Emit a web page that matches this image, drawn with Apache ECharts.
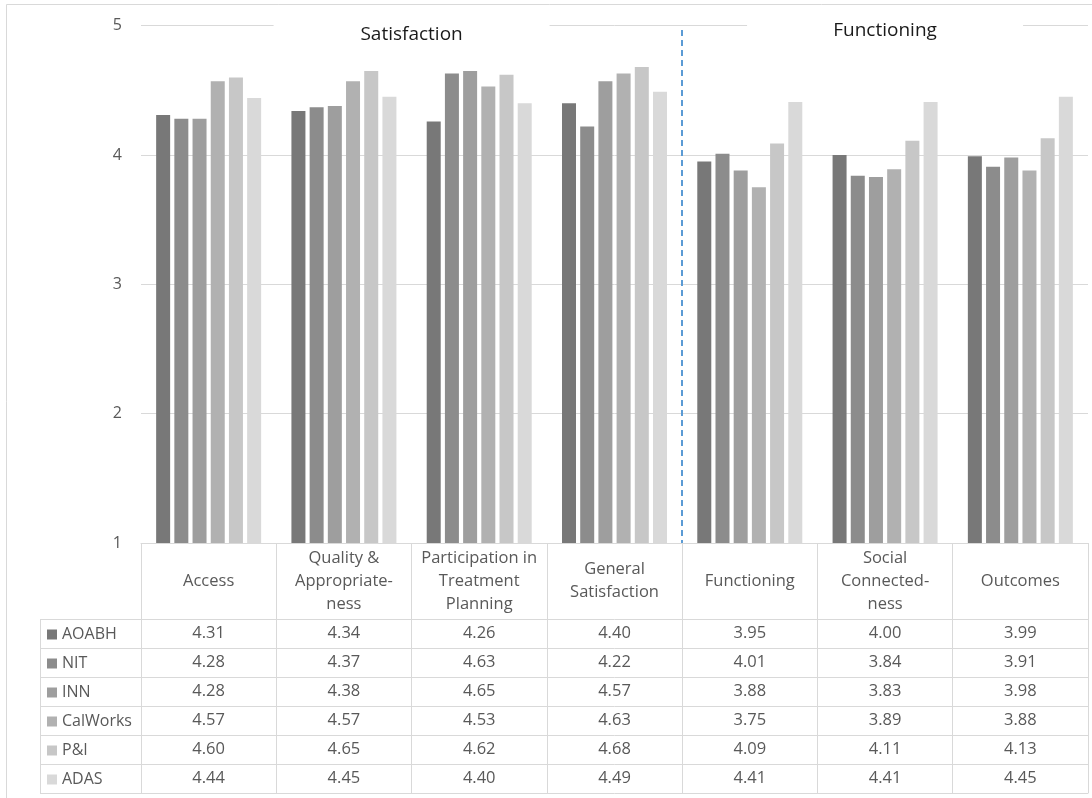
<!DOCTYPE html>
<html>
<head>
<meta charset="utf-8">
<script src="https://cdn.jsdelivr.net/npm/echarts@6/dist/echarts.min.js"></script>
<style>
html,body{margin:0;padding:0;background:#fff;}
#chart{width:1092px;height:798px;}
</style>
</head>
<body>
<div id="chart"></div>
<script>
const categories = ['Access', 'Quality &\nAppropriate-\nness', 'Participation in\nTreatment\nPlanning', 'General\nSatisfaction', 'Functioning', 'Social\nConnected-\nness', 'Outcomes'];
const seriesNames = ['AOABH', 'NIT', 'INN', 'CalWorks', 'P&I', 'ADAS'];
const aoabh    = [4.31, 4.34, 4.26, 4.40, 3.95, 4.00, 3.99];
const nit      = [4.28, 4.37, 4.63, 4.22, 4.01, 3.84, 3.91];
const inn      = [4.28, 4.38, 4.65, 4.57, 3.88, 3.83, 3.98];
const calworks = [4.57, 4.57, 4.53, 4.63, 3.75, 3.89, 3.88];
const pAndI    = [4.60, 4.65, 4.62, 4.68, 4.09, 4.11, 4.13];
const adas     = [4.44, 4.45, 4.40, 4.49, 4.41, 4.41, 4.45];
const yMin = 1, yMax = 5, yInterval = 1;
const groupTitles = ['Satisfaction', 'Functioning'];
const groupRanges = [[0, 3], [4, 6]];

const rows = [aoabh, nit, inn, calworks, pAndI, adas];
const colors = ['#787878', '#8c8c8c', '#9e9e9e', '#b1b1b1', '#c7c7c7', '#d9d9d9'];
const FONT = '"Open Sans", "Noto Sans", sans-serif';
const TXT = '#595959';
const LINE = '#d9d9d9';
const GRID = {left: 141, right: 4, top: 25.7, bottom: 255};
const HEADER_H = 76, ROW_H = 29;
const TABLE_LEFT = 40;

const chart = echarts.init(document.getElementById('chart'), null, {renderer: 'canvas'});

const xAxes = [{
  type: 'category', data: categories, gridIndex: 0, position: 'bottom',
  axisLine: {show: true, lineStyle: {color: LINE, width: 1}},
  axisTick: {show: true, interval: 0, length: HEADER_H + ROW_H * rows.length, lineStyle: {color: LINE, width: 1}},
  axisLabel: {interval: 0, margin: HEADER_H / 2, verticalAlign: 'middle', lineHeight: 23,
    fontSize: 16.5, color: TXT, fontFamily: FONT, hideOverlap: false},
  splitLine: {show: false}
}];
rows.forEach((r, i) => {
  xAxes.push({
    type: 'category', data: categories, gridIndex: 0, position: 'bottom',
    offset: HEADER_H + ROW_H * i,
    axisLine: {show: true, lineStyle: {color: LINE, width: 1}},
    axisTick: {show: false},
    axisLabel: {interval: 0, margin: ROW_H / 2, verticalAlign: 'middle', fontSize: 16.5, color: TXT,
      fontFamily: FONT, hideOverlap: false, formatter: (v, idx) => r[idx].toFixed(2)},
    splitLine: {show: false}
  });
});
xAxes.push({
  type: 'category', data: categories, gridIndex: 0, position: 'bottom',
  offset: HEADER_H + ROW_H * rows.length,
  axisLine: {show: true, lineStyle: {color: LINE, width: 1}},
  axisTick: {show: false}, axisLabel: {show: false}, splitLine: {show: false}
});

const option = {
  animation: false,
  backgroundColor: '#fff',
  grid: GRID,
  legend: {
    orient: 'vertical', left: 42, top: 621.5, itemWidth: 10, itemHeight: 10, itemGap: 13,
    icon: 'rect', selectedMode: false, data: seriesNames,
    textStyle: {fontSize: 16, lineHeight: 16, color: TXT, fontFamily: FONT}
  },
  xAxis: xAxes,
  yAxis: {
    type: 'value', min: yMin, max: yMax, interval: yInterval,
    axisLine: {show: false}, axisTick: {show: false},
    axisLabel: {fontSize: 16, color: TXT, fontFamily: FONT, margin: 19},
    splitLine: {lineStyle: {color: LINE, width: 1}}
  },
  series: rows.map((r, i) => ({
    name: seriesNames[i], type: 'bar', data: r, xAxisIndex: 0,
    barWidth: 14, barGap: '30%',
    itemStyle: {color: colors[i]}
  }))
};
chart.setOption(option);

function build() {
  const px = idx => chart.convertToPixel({xAxisIndex: 0}, idx);
  const g = [];
  const H = 798;
  const axisY = H - GRID.bottom;
  // outer frame
  g.push({type: 'rect', shape: {x: 6.5, y: 4.5, width: 1200, height: 900}, style: {fill: null, stroke: LINE, lineWidth: 1}, z: 0, silent: true});
  // left part of table rows
  for (let k = 0; k <= rows.length; k++) {
    const y = Math.round(axisY + HEADER_H + ROW_H * k) + 0.5;
    g.push({type: 'line', shape: {x1: TABLE_LEFT, y1: y, x2: GRID.left, y2: y}, style: {stroke: LINE, lineWidth: 1}, silent: true});
  }
  g.push({type: 'line', shape: {x1: TABLE_LEFT + 0.5, y1: axisY + HEADER_H, x2: TABLE_LEFT + 0.5, y2: axisY + HEADER_H + ROW_H * rows.length}, style: {stroke: LINE, lineWidth: 1}, silent: true});
  // dashed divider
  const dx = Math.round((px(3) + px(4)) / 2);
  g.push({type: 'line', shape: {x1: dx, y1: 30, x2: dx, y2: axisY}, style: {stroke: '#5b9bd5', lineWidth: 2, lineDash: [6, 4]}, z: 10, silent: true});
  // group titles with white boxes masking top gridline
  const titleY = [35, 31];
  groupRanges.forEach((rg, i) => {
    const cx = (px(rg[0]) + px(rg[1])) / 2;
    g.push({type: 'rect', shape: {x: cx - 138, y: titleY[i] - 16, width: 276, height: 32}, style: {fill: '#fff'}, z: 20, silent: true});
    g.push({type: 'text', x: cx, y: titleY[i], style: {text: groupTitles[i], fill: '#1a1a1a', font: '19px ' + FONT, align: 'center', verticalAlign: 'middle'}, z: 21, silent: true});
  });
  chart.setOption({graphic: g});
}
build();
</script>
</body>
</html>
